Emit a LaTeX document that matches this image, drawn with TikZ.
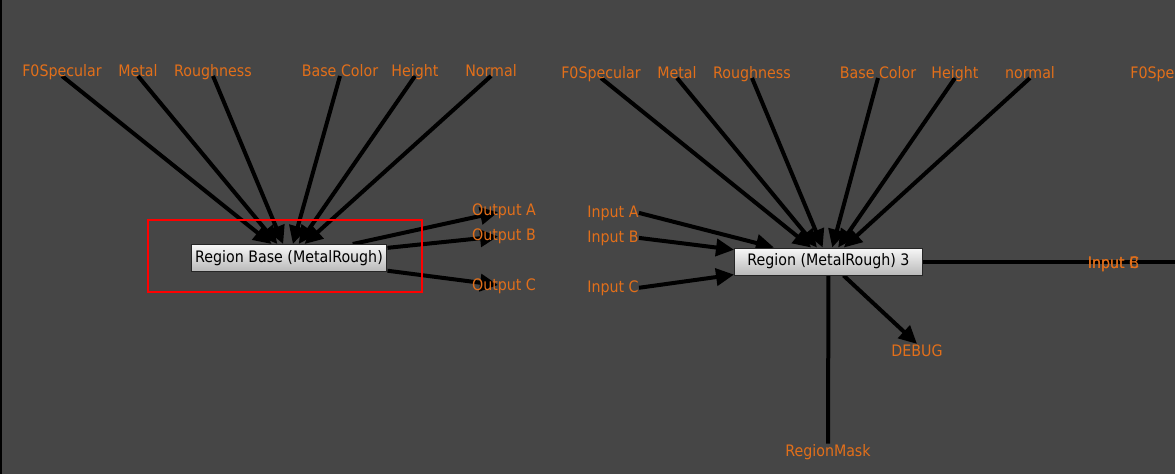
\documentclass[tikz,border=0pt]{standalone}
\usepackage{fontspec}
\newfontfamily\graphfont{DejaVu Sans Condensed}
\usetikzlibrary{arrows.meta, positioning}
\definecolor{canvas}{RGB}{70,70,70}
\definecolor{portorange}{RGB}{226,111,26}
\pgfdeclarelayer{wires}
\pgfsetlayers{wires,main}

\begin{document}
\begin{tikzpicture}[
    x=0.02cm, y=-0.02cm,
    port/.style={font=\graphfont\fontsize{9}{10.8}\selectfont, text=portorange, inner sep=0pt, anchor=base},
    region/.style={draw=black!85, line width=0.02cm, top color=white!94!gray, bottom color=gray!55,
                   minimum height=0.54cm, inner sep=0pt, font=\graphfont\fontsize{9}{10.8}\selectfont, text=black},
    wire/.style={draw=black, line width=0.08cm},
    feed/.style={wire, -{Triangle[length=0.36cm, width=0.34cm]}},
    frame/.style={draw=red, line width=0.04cm}
]

\useasboundingbox (0,0) rectangle (1175,474);
\clip (0,0) rectangle (1175,474);

% Region nodes
\node[region, minimum width=3.92cm] (base) at (289,258) {Region Base (MetalRough)};
\node[region, minimum width=3.76cm] (r3) at (828.5,261.5) {Region (MetalRough) 3};

% Inputs of Region Base
\node[port] (lf0) at (62,76) {F0Specular};
\node[port] (lmetal) at (138,76) {Metal};
\node[port] (lrough) at (213,76) {Roughness};
\node[port] (lbase) at (340,76) {Base Color};
\node[port] (lheight) at (415,76) {Height};
\node[port] (lnormal) at (491,76) {Normal};

% Outputs of Region Base
\node[port] (outA) at (504,215) {Output A};
\node[port] (outB) at (504,240) {Output B};
\node[port] (outC) at (504,290) {Output C};

% Inputs of Region 3
\node[port] (rf0) at (601,78) {F0Specular};
\node[port] (rmetal) at (677,78) {Metal};
\node[port] (rrough) at (752,78) {Roughness};
\node[port] (rbase) at (878,78) {Base Color};
\node[port] (rheight) at (955,78) {Height};
\node[port] (rnormal) at (1030,78) {normal};
\node[port] (nf0) at (1170,78) {F0Specular};

\node[port] (inA) at (613,217) {Input A};
\node[port] (inB) at (613,242) {Input B};
\node[port] (inC) at (613,292) {Input C};

% Outputs of Region 3
\node[port] (debug) at (917,356) {DEBUG};
\node[port] (mask) at (828,456) {RegionMask};
\node[port] (nextB) at (1113.5,268) {Input B};
\node[port] (nextC) at (1113.5,268) {Input C};
\coordinate (rout) at (1175,261.5);

% Selection frame
\draw[frame] (148,220) rectangle (422,292);

\begin{pgfonlayer}{wires}
\fill[canvas] (0,0) rectangle (1175,474);
\draw[black, line width=0.04cm] (1,0) -- (1,474);

% Region Base
\foreach \src in {lf0, lmetal, lrough, lbase, lheight, lnormal}
    \draw[feed] (\src.base) -- (base);
\foreach \dst in {outA, outB, outC}
    \draw[feed, shorten >=0.12cm] (base) -- (\dst.center);

% Region 3
\foreach \src in {rf0, rmetal, rrough, rbase, rheight, rnormal}
    \draw[feed] (\src.base) -- (r3);
\foreach \src in {inA, inB, inC}
    \draw[feed] (\src.east) -- (r3);
\draw[feed] (r3) -- (debug.north);
\draw[wire] (r3) -- (mask.north);
\draw[wire] (r3) -- (rout);
\end{pgfonlayer}

\end{tikzpicture}
\end{document}
